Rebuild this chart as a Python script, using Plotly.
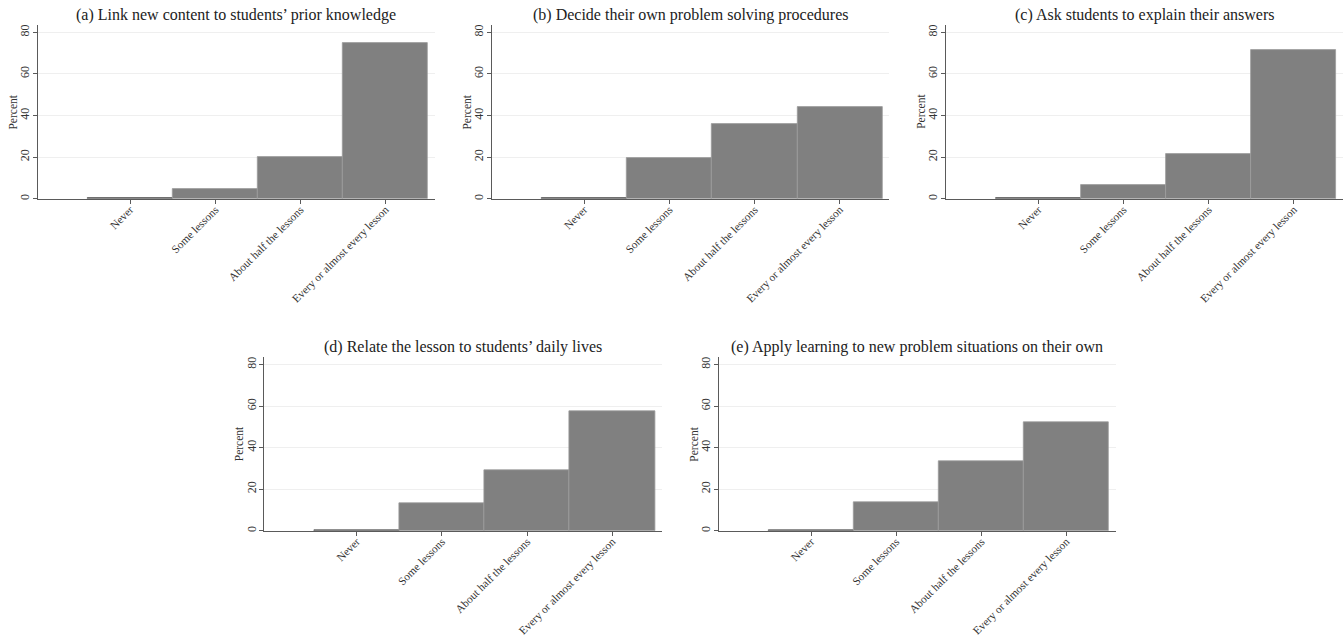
import plotly.graph_objects as go

# Response categories (x axis) and share of teachers in each, per practice
categories = ["Never", "Some lessons", "About half the lessons", "Every or almost every lesson"]

titles = [
    "(a) Link new content to students\u2019 prior knowledge",
    "(b) Decide their own problem solving procedures",
    "(c) Ask students to explain their answers",
    "(d) Relate the lesson to students\u2019 daily lives",
    "(e) Apply learning to new problem situations on their own",
]

link_prior_knowledge = [0.4, 4.7, 20.2, 74.8]
own_procedures = [0.4, 19.6, 36.1, 43.9]
explain_answers = [0.4, 6.4, 21.5, 71.7]
daily_lives = [0.4, 13.2, 29.0, 57.4]
new_situations = [0.4, 13.9, 33.5, 52.2]

y_ticks = [0, 20, 40, 60, 80]

series = [link_prior_knowledge, own_procedures, explain_answers, daily_lives, new_situations]

W, H = 1343, 640
# panel boxes in pixels: (left, right, top, bottom)
boxes = [
    (37.7, 435.0, 25.0, 198.7),
    (491.7, 889.3, 25.0, 198.7),
    (946.0, 1343.0, 25.0, 198.7),
    (264.3, 661.7, 357.2, 530.7),
    (718.7, 1115.7, 357.2, 530.7),
]

FONT = "Liberation Serif"
AXIS_COL = "#5a5a5a"

fig = go.Figure()
annotations = []

for i, (vals, title, box) in enumerate(zip(series, titles, boxes)):
    n = i + 1
    xa = "x" if n == 1 else f"x{n}"
    ya = "y" if n == 1 else f"y{n}"
    fig.add_trace(go.Bar(
        x=list(range(len(categories))), y=vals, width=1,
        xaxis=xa, yaxis=ya,
        marker=dict(color="#808080",
                    line=dict(color=["#505050", "#9c9c9c", "#9c9c9c", "#9c9c9c"], width=0.8)),
        showlegend=False, hoverinfo="skip",
    ))
    l, r, t, b = box
    xdom = [l / W, min(r / W, 1.0)]
    ydom = [1 - b / H, 1 - t / H]
    xkey = "xaxis" if n == 1 else f"xaxis{n}"
    ykey = "yaxis" if n == 1 else f"yaxis{n}"
    fig.update_layout({
        xkey: dict(
            domain=xdom, anchor=ya, range=[-1.086, 3.58], automargin=False,
            tickmode="array", tickvals=list(range(len(categories))), ticktext=categories,
            tickangle=-45, ticks="outside", ticklen=4, tickcolor=AXIS_COL, tickwidth=1,
            ticklabelstandoff=-5,
            showline=True, linecolor=AXIS_COL, linewidth=1,
            showgrid=False, zeroline=False,
            tickfont=dict(family=FONT, size=11.3, color="#333333"),
        ),
        ykey: dict(
            domain=ydom, anchor=xa, range=[0, 83.5], automargin=False,
            tickmode="array", tickvals=y_ticks, tickangle=-90,
            ticks="outside", ticklen=4, tickcolor=AXIS_COL, tickwidth=1,
            ticklabelstandoff=-1,
            showline=True, linecolor=AXIS_COL, linewidth=1,
            showgrid=True, gridcolor="#efefef", gridwidth=1, zeroline=False,
            tickfont=dict(family=FONT, size=12, color="#333333"),
        ),
    })
    annotations.append(dict(
        text=title, xref="paper", yref="paper",
        x=(l + min(r, W)) / 2 / W, y=1 - (t - 10) / H,
        xanchor="center", yanchor="middle", showarrow=False,
        font=dict(family=FONT, size=16, color="#222222"),
    ))
    annotations.append(dict(
        text="Percent", xref="paper", yref="paper",
        x=(l - 25) / W, y=1 - (t + b) / 2 / H, textangle=-90,
        xanchor="center", yanchor="middle", showarrow=False,
        font=dict(family=FONT, size=11.5, color="#333333"),
    ))

fig.update_layout(
    width=W, height=H,
    margin=dict(l=0, r=0, t=0, b=0),
    paper_bgcolor="white", plot_bgcolor="white",
    bargap=0, annotations=annotations,
)

fig.write_html("out.html")
